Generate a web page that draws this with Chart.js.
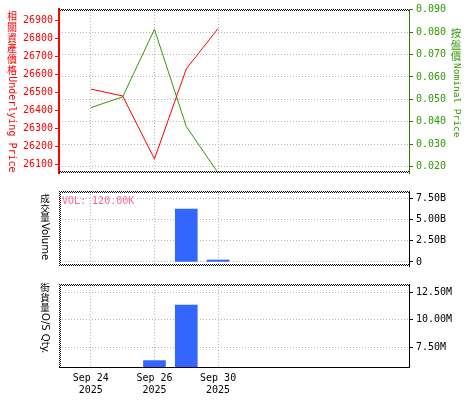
<!DOCTYPE html>
<html>
<head>
<meta charset="utf-8">
<script src="https://cdn.jsdelivr.net/npm/chart.js@4/dist/chart.umd.min.js"></script>
<style>
  body { margin: 0; background: #fff; width: 475px; height: 400px; position: relative; overflow: hidden; }
  canvas { position: absolute; left: 0; }
</style>
</head>
<body>
<canvas id="priceChart" width="475" height="182" style="top:0"></canvas>
<canvas id="volChart" width="475" height="93" style="top:182px"></canvas>
<canvas id="qtyChart" width="475" height="125" style="top:275px"></canvas>
<script>
// trading days, one slot each
const days = [0, 1, 2, 3, 4]
const dayLabels = ['Sep 24', 'Sep 25', 'Sep 26', 'Sep 29', 'Sep 30']
const yearLabels = ['2025', '2025', '2025', '2025', '2025']
const labelledDays = [0, 2, 4]

const underlying = [26518, 26480, 26131, 26630, 26854]
const nominal = [0.0463, 0.0511, 0.0813, 0.0379, 0.0171]
const volume = [null, null, null, 6.21e9, 0.23e9]
const osQty = [null, null, 6.28e6, 11.36e6, null]

const underlyingTicks = [26100, 26200, 26300, 26400, 26500, 26600, 26700, 26800, 26900]
const nominalTicks = [0.02, 0.03, 0.04, 0.05, 0.06, 0.07, 0.08, 0.09]
const volumeTicks = [0, 2.5e9, 5e9, 7.5e9]
const qtyTicks = [7.5e6, 10e6, 12.5e6]

const TICK_FONT = { family: 'DejaVu Sans Mono', size: 10 }
const GRID = '#b4b4b4'

function toPoints(values) {
  return days
    .map((d, i) => ({ x: d, y: values[i] }))
    .filter((p) => p.y !== null)
}

function fixedTicks(list) {
  return (scale) => {
    scale.ticks = list.map((v) => ({ value: v }))
  }
}

function xAxis(showLabels) {
  return {
    type: 'linear',
    min: -1,
    max: 10,
    offset: false,
    afterBuildTicks: fixedTicks(labelledDays),
    afterFit: (scale) => {
      scale.height = showLabels ? 33 : 0
    },
    grid: { color: GRID, drawTicks: false, offset: false },
    border: showLabels
      ? { display: true, color: '#000', width: 1, dash: [1, 2] }
      : { display: false, dash: [1, 2] },
    ticks: {
      display: showLabels,
      padding: 5,
      color: '#000',
      font: { family: 'DejaVu Sans Mono', size: 10, lineHeight: 1.2 },
      maxRotation: 0,
      callback: (v) => [dayLabels[v], yearLabels[v]],
    },
  }
}

function rightAxis(min, max, list, fmt, color, borderColor) {
  return {
    type: 'linear',
    position: 'right',
    min: min,
    max: max,
    afterBuildTicks: fixedTicks(list),
    afterFit: (scale) => {
      scale.width = 66
    },
    grid: { color: GRID, tickColor: borderColor, tickLength: 4 },
    border: { color: borderColor, width: 1, dash: [1, 2] },
    ticks: { color: color, font: TICK_FONT, padding: 3, callback: fmt },
  }
}

// vertical side titles: CJK upright, latin turned clockwise
function drawSideTitle(ctx, t) {
  ctx.save()
  ctx.fillStyle = t.color
  let y = t.y
  const runs = t.text.match(/[\u2e80-\u9fff]|[^\u2e80-\u9fff]+/g)
  runs.forEach((run) => {
    if (/[\u2e80-\u9fff]/.test(run)) {
      ctx.font = t.cjkSize + 'px "Noto Sans CJK TC"'
      ctx.textAlign = 'center'
      ctx.textBaseline = 'middle'
      ctx.fillText(run, t.x, y + t.cjkStep / 2)
      y += t.cjkStep
    } else {
      ctx.font = t.latinSize + 'px ' + t.latinFont
      const w = ctx.measureText(run).width
      ctx.save()
      ctx.translate(t.x, y + 1)
      ctx.rotate(Math.PI / 2)
      ctx.textAlign = 'left'
      ctx.textBaseline = 'middle'
      ctx.fillText(run, 0, 0)
      ctx.restore()
      y += w
    }
  })
  ctx.restore()
}

const panelDecor = {
  id: 'panelDecor',
  afterDraw(chart, args, opts) {
    const { ctx, chartArea: a } = chart
    ctx.save()
    ctx.strokeStyle = '#000'
    ctx.lineWidth = 1
    ;(opts.dotted || []).forEach((side) => {
      for (let k = 0; k < 2; k++) {
        ctx.setLineDash([1, 1])
        ctx.lineDashOffset = k
        ctx.beginPath()
        if (side === 'top') {
          ctx.moveTo(a.left, a.top + 0.5 + k)
          ctx.lineTo(a.right, a.top + 0.5 + k)
        } else if (side === 'bottom') {
          ctx.moveTo(a.left, a.bottom - 0.5 - k)
          ctx.lineTo(a.right, a.bottom - 0.5 - k)
        } else if (side === 'left') {
          ctx.moveTo(a.left + 0.5 + k, a.top)
          ctx.lineTo(a.left + 0.5 + k, a.bottom)
        }
        ctx.stroke()
      }
    })
    ctx.restore()
    ;(opts.titles || []).forEach((t) => drawSideTitle(ctx, t))
    if (opts.note) {
      ctx.save()
      ctx.fillStyle = opts.note.color
      ctx.font = '10px "DejaVu Sans Mono"'
      ctx.textBaseline = 'middle'
      ctx.fillText(opts.note.text, a.left + 3, a.top + 10)
      ctx.restore()
    }
  },
}

Chart.register(panelDecor)

const common = {
  responsive: false,
  animation: false,
  plugins: { legend: { display: false }, tooltip: { enabled: false } },
}

new Chart(document.getElementById('priceChart'), {
  type: 'line',
  data: {
    datasets: [
      {
        data: toPoints(underlying),
        yAxisID: 'yL',
        borderColor: '#ff0000',
        borderWidth: 1,
        pointRadius: 0,
        tension: 0,
      },
      {
        data: toPoints(nominal),
        yAxisID: 'yR',
        borderColor: '#339900',
        borderWidth: 1,
        pointRadius: 0,
        tension: 0,
      },
    ],
  },
  options: {
    ...common,
    layout: { padding: { top: 4, bottom: 2, left: 0, right: 0 } },
    scales: {
      x: xAxis(false),
      yL: {
        type: 'linear',
        position: 'left',
        min: 26053,
        max: 26962,
        afterBuildTicks: fixedTicks(underlyingTicks),
        afterFit: (scale) => {
          scale.width = 59
        },
        grid: { drawOnChartArea: false, tickColor: '#ff0000', tickLength: 4 },
        border: { color: '#ff0000', width: 2 },
        ticks: { color: '#ff0000', font: TICK_FONT, padding: 2, callback: (v) => String(v) },
      },
      yR: rightAxis(0.01708, 0.0904, nominalTicks, (v) => v.toFixed(3), '#339900', '#2d7a00'),
    },
    plugins: {
      ...common.plugins,
      panelDecor: {
        dotted: ['top', 'bottom'],
        titles: [
          { text: '相關資產價格Underlying Price', x: 12, y: 11, color: '#ff0000', cjkSize: 10, cjkStep: 10.7, latinSize: 10, latinFont: '"DejaVu Sans Mono"' },
          { text: '按盤價Nominal Price', x: 456, y: 27, color: '#339900', cjkSize: 10.5, cjkStep: 11.7, latinSize: 9.5, latinFont: '"DejaVu Sans Mono"' },
        ],
      },
    },
  },
})

new Chart(document.getElementById('volChart'), {
  type: 'bar',
  data: {
    datasets: [
      {
        data: toPoints(volume),
        backgroundColor: '#3366ff',
        borderWidth: 0,
        barThickness: 22,
      },
    ],
  },
  options: {
    ...common,
    layout: { padding: { top: 3, bottom: 3, left: 59, right: 0 } },
    scales: {
      x: xAxis(false),
      y: rightAxis(-0.48e9, 8.34e9, volumeTicks, (v) => (v === 0 ? '0' : (v / 1e9).toFixed(2) + 'B'), '#000', '#000'),
    },
    plugins: {
      ...common.plugins,
      panelDecor: {
        dotted: ['top', 'bottom', 'left'],
        titles: [
          { text: '成交量Volume', x: 45, y: 12, color: '#000', cjkSize: 9.5, cjkStep: 9.3, latinSize: 10, latinFont: '"DejaVu Sans"' },
        ],
        note: { text: 'VOL: 120.00K', color: '#ff6699' },
      },
    },
  },
})

new Chart(document.getElementById('qtyChart'), {
  type: 'bar',
  data: {
    datasets: [
      {
        data: toPoints(osQty),
        backgroundColor: '#3366ff',
        borderWidth: 0,
        barThickness: 22,
      },
    ],
  },
  options: {
    ...common,
    layout: { padding: { top: 1, bottom: 0, left: 59, right: 0 } },
    scales: {
      x: xAxis(true),
      y: rightAxis(5.69e6, 13.28e6, qtyTicks, (v) => (v / 1e6).toFixed(2) + 'M', '#000', '#000'),
    },
    plugins: {
      ...common.plugins,
      panelDecor: {
        dotted: ['top', 'left'],
        titles: [
          { text: '街貨量O/S Qty.', x: 45, y: 8, color: '#000', cjkSize: 9.5, cjkStep: 9.7, latinSize: 10, latinFont: '"DejaVu Sans"' },
        ],
      },
    },
  },
})
</script>
</body>
</html>
